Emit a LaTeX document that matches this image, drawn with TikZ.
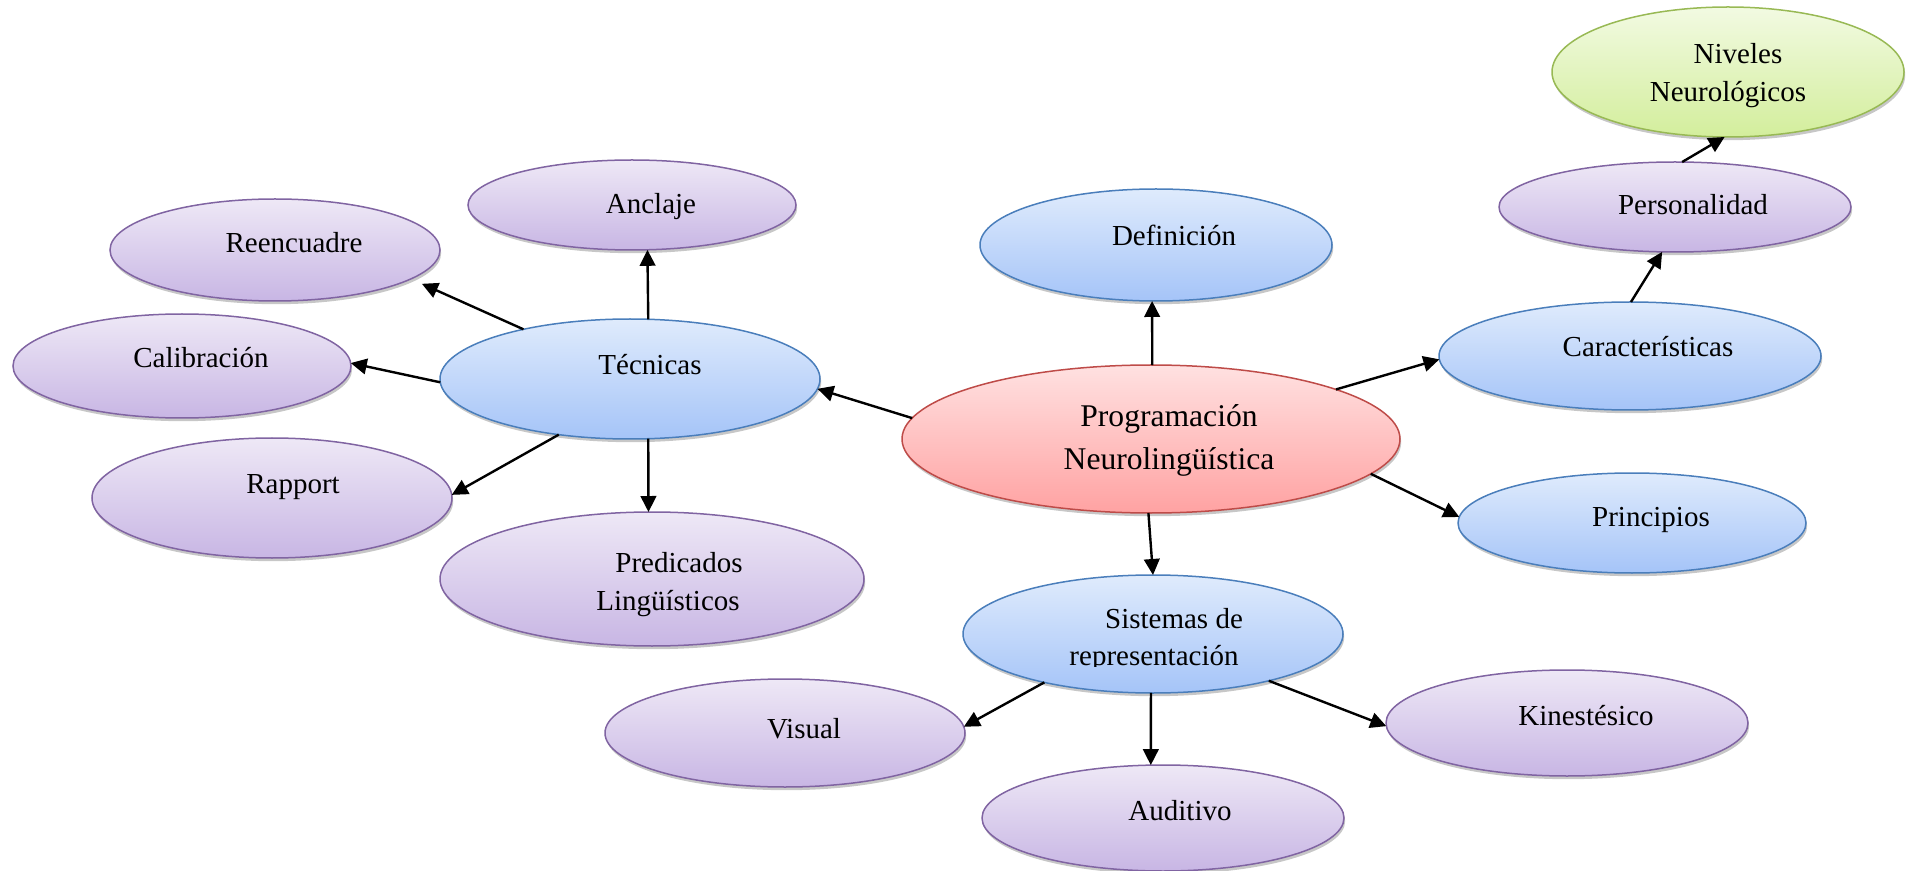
\documentclass[tikz,border=0pt]{standalone}
\usepackage{fontspec}
\setmainfont{Liberation Serif}
\usetikzlibrary{arrows.meta,shadows,shapes.geometric}

\definecolor{lilaTop}{HTML}{EEE8F6}
\definecolor{lilaBot}{HTML}{C8B6E4}
\definecolor{lilaLine}{HTML}{8064A2}
\definecolor{azulTop}{HTML}{DFEBFC}
\definecolor{azulBot}{HTML}{A5C4F8}
\definecolor{azulLine}{HTML}{4A7EBB}
\definecolor{rojoTop}{HTML}{FFE1E1}
\definecolor{rojoBot}{HTML}{FFA2A2}
\definecolor{rojoLine}{HTML}{BE4B48}
\definecolor{verdeTop}{HTML}{F2FAE2}
\definecolor{verdeBot}{HTML}{D3EE9C}
\definecolor{verdeLine}{HTML}{98B954}

\tikzset{
  burbuja/.style={ellipse, inner sep=0pt, outer sep=0pt, line width=0.75pt,
    drop shadow={shadow xshift=0.6pt, shadow yshift=-1.6pt, opacity=0.22, fill=black}},
  lila/.style={burbuja, draw=lilaLine, top color=lilaTop, bottom color=lilaBot},
  azul/.style={burbuja, draw=azulLine, top color=azulTop, bottom color=azulBot},
  rojo/.style={burbuja, draw=rojoLine, top color=rojoTop, bottom color=rojoBot},
  verde/.style={burbuja, draw=verdeLine, top color=verdeTop, bottom color=verdeBot},
  rotulo/.style={anchor=base, inner sep=0pt, font=\fontsize{14.5}{17}\selectfont},
  rotulog/.style={anchor=base, inner sep=0pt, font=\fontsize{15.8}{19}\selectfont},
  flecha/.style={-{Triangle[length=8pt,width=7.8pt]}, line width=1.2pt, black}
}

\begin{document}
\begin{tikzpicture}[x=0.5pt, y=-0.5pt]
\useasboundingbox (0,0) rectangle (1911,871);

% ---- bubbles ----
\node[verde, minimum width=176pt, minimum height=65pt] (niv)  at (1728,72)  {};
\node[lila,  minimum width=176pt, minimum height=45pt] (per)  at (1675,207) {};
\node[azul,  minimum width=191pt, minimum height=54pt] (car)  at (1630,356) {};
\node[azul,  minimum width=174pt, minimum height=50pt] (pri)  at (1632,523) {};
\node[azul,  minimum width=176pt, minimum height=56pt] (def)  at (1156,245) {};
\node[rojo,  minimum width=249pt, minimum height=74pt] (prog) at (1151,439) {};
\node[azul,  minimum width=190pt, minimum height=59pt] (sis)  at (1153,634) {};
\node[lila,  minimum width=180pt, minimum height=54pt] (vis)  at (785,733)  {};
\node[lila,  minimum width=181pt, minimum height=53pt] (aud)  at (1163,818) {};
\node[lila,  minimum width=181pt, minimum height=53pt] (kin)  at (1567,723) {};
\node[azul,  minimum width=190pt, minimum height=60pt] (tec)  at (630,379)  {};
\node[lila,  minimum width=164pt, minimum height=45pt] (anc)  at (632,205)  {};
\node[lila,  minimum width=165pt, minimum height=51pt] (ree)  at (275,250)  {};
\node[lila,  minimum width=169pt, minimum height=52pt] (cal)  at (182,366)  {};
\node[lila,  minimum width=180pt, minimum height=60pt] (rap)  at (272,498)  {};
\node[lila,  minimum width=212pt, minimum height=67pt] (pre)  at (652,579)  {};

% ---- labels ----
\node[rotulo] (niv-a) at (1738,64)  {Niveles};
\node[rotulo] (niv-b) at (1728,102) {Neurológicos};
\node[rotulo] (per-t) at (1693,215) {Personalidad};
\node[rotulo] (car-t) at (1648,357) {Características};
\node[rotulo] (pri-t) at (1651,526) {Principios};
\node[rotulo] (def-t) at (1174,246) {Definición};
\node[rotulog] (prog-a) at (1169,427) {Programación};
\node[rotulog] (prog-b) at (1169,469) {Neurolingüística};
\node[rotulo] (sis-a) at (1174,628) {Sistemas de};
\begin{scope}
  \clip (950,600) rectangle (1350,666);
  \node[rotulo] (sis-b) at (1154,665) {representación};
\end{scope}
\node[rotulo] (vis-t) at (804,738)  {Visual};
\node[rotulo] (aud-t) at (1180,820) {Auditivo};
\node[rotulo] (kin-t) at (1586,725) {Kinestésico};
\node[rotulo] (tec-t) at (650,375)  {Técnicas};
\node[rotulo] (anc-t) at (651,214)  {Anclaje};
\node[rotulo] (ree-t) at (294,253)  {Reencuadre};
\node[rotulo] (cal-t) at (201,368)  {Calibración};
\node[rotulo] (rap-t) at (293,494)  {Rapport};
\node[rotulo] (pre-a) at (679,572)  {Predicados};
\node[rotulo] (pre-b) at (668,610)  {Lingüísticos};

% ---- connectors ----
\draw[flecha] (prog.89)    -- (def.266);
\draw[flecha] (prog.175.6) -- (tec.-3);
\draw[flecha] (prog.15.6)  -- (car.181.8);
\draw[flecha] (prog.-9.2)  -- (pri.178.4);
\draw[flecha] (prog.268.5) -- (sis.90.5);
\draw[flecha] (car.89)     -- (per.254.5);
\draw[flecha] (per.81)     -- (niv.267.4);
\draw[flecha] (tec.73)     -- (anc.289.6);
\draw[flecha, shorten >=6pt] (tec.155.7) -- (ree.-12.4);
\draw[flecha] (tec.181.5)  -- (cal.1.4);
\draw[flecha] (tec.218.9)  -- (rap.1.9);
\draw[flecha] (tec.287)    -- (pre.93.4);
\draw[flecha] (sis.204.8)  -- (vis.2.2);
\draw[flecha] (sis.268)    -- (aud.103);
\draw[flecha] (sis.338.3)  -- (kin.181.6);
\end{tikzpicture}
\end{document}
